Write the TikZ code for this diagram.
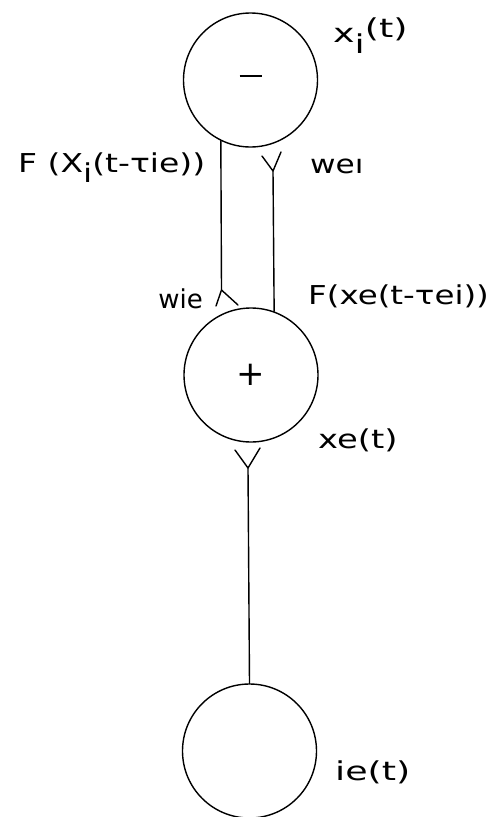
\documentclass[tikz,border=0pt]{standalone}
\usepackage{fontspec}
\setmainfont{DejaVu Sans}
\begin{document}
\begin{tikzpicture}[x=1pt,y=-1pt,
  neuron/.style={draw,circle,minimum size=134pt,inner sep=0pt,line width=1.4pt},
  wire/.style={line width=1.4pt,line cap=round,line join=round},
  lbl/.style={inner sep=0pt,font=\fontsize{26}{30}\selectfont},
  sign/.style={inner sep=0pt,font=\fontsize{34}{38}\selectfont}]
\useasboundingbox (0,0) rectangle (495,817);
\fill[white] (0,0) rectangle (495,817);
% neurons
\node[neuron] (top) at (250.5,80) {};
\node[neuron] (mid) at (251,375) {};
\node[neuron] (bot) at (249.5,751) {};
\node[sign] (minus) at (250.5,79) {\rule[0.3ex]{22pt}{2pt}};
\node[sign] (plus) at (251,375) {+};
% coordinates for chevrons
\coordinate (la) at (221.5,290);
\coordinate (ll) at (216,306);
\coordinate (lr) at (238,305);
\coordinate (ra) at (273,171);
\coordinate (rl) at (262,156);
\coordinate (rr) at (281,152);
\coordinate (ba) at (248,468);
\coordinate (bl) at (235,450);
\coordinate (br) at (260,448);
% connectors
\draw[wire] (top.244) -- (la);
\draw[wire] (ll) -- (la) -- (lr);
\draw[wire] (ra) -- (mid.70);
\draw[wire] (rl) -- (ra) -- (rr);
\draw[wire] (ba) -- (bot.north);
\draw[wire] (bl) -- (ba) -- (br);
% labels
\node[lbl,anchor=west] (xi) at (333,36) {\scalebox{1.4}[1]{x\raisebox{-11pt}{i}\raisebox{5pt}{(t)}}};
\node[lbl,anchor=west] (fxi) at (18,168) {\scalebox{1.27}[1]{F (X\raisebox{-10pt}{i}(t-τie))}};
\node[lbl,anchor=west] (wei) at (310,166) {\scalebox{1.2}[1]{weı}};
\node[lbl,anchor=east] (wie) at (203,299) {wie};
\node[lbl,anchor=west] (fxe) at (308,296) {\scalebox{1.25}[1]{F(xe(t-τei))}};
\node[lbl,anchor=west] (xe) at (318,440) {\scalebox{1.3}[1]{xe(t)}};
\node[lbl,anchor=west] (ie) at (335,772) {\scalebox{1.4}[1]{ie(t)}};
\end{tikzpicture}
\end{document}
